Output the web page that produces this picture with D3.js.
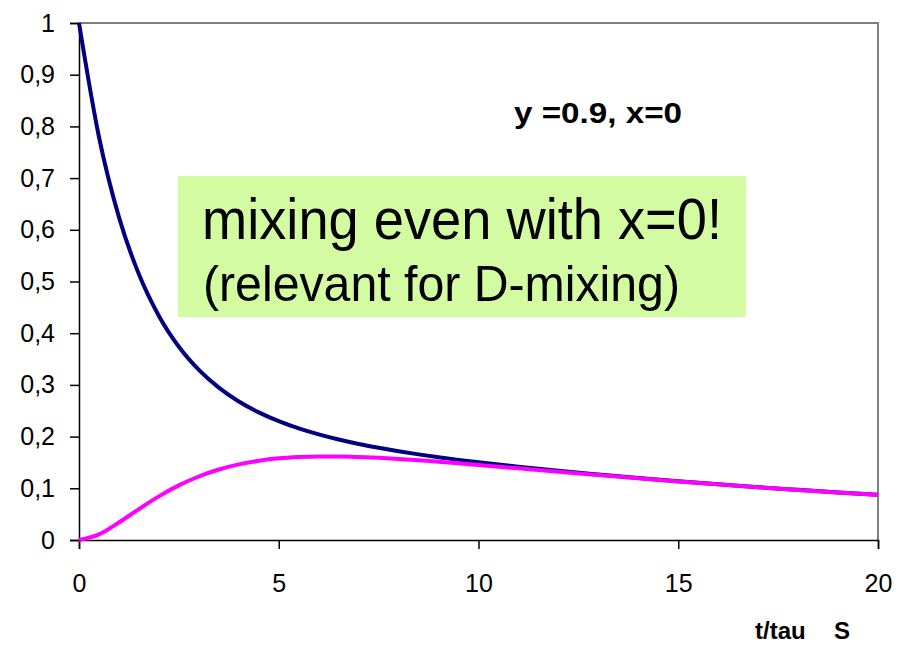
<!DOCTYPE html>
<html>
<head>
<meta charset="utf-8">
<script src="https://cdn.jsdelivr.net/npm/d3@7"></script>
<style>
  body { margin: 0; background: #fff; }
  text { font-family: Arial, "Liberation Sans", sans-serif; }
</style>
</head>
<body>
<div class="mixing-chart"></div>
<script>
// time in units of tau_S
const tValues = [0, 0.5, 1, 1.5, 2, 2.5, 3, 3.5, 4, 4.5, 5, 5.5, 6, 6.5, 7, 7.5, 8, 8.5, 9, 9.5, 10,
  11, 12, 13, 14, 15, 16, 17, 18, 19, 20];
// unmixed (navy) and mixed (magenta) probabilities
const unmixed = [1, 0.7795, 0.6245, 0.5139, 0.4334, 0.3738, 0.329, 0.2947, 0.268, 0.2469, 0.2298,
  0.2158, 0.2042, 0.1943, 0.1857, 0.1783, 0.1716, 0.1656, 0.1601, 0.155, 0.1503,
  0.1417, 0.1338, 0.1267, 0.12, 0.1137, 0.1078, 0.1022, 0.097, 0.092, 0.0873];
const mixed = [0, 0.0108, 0.0338, 0.0598, 0.0844, 0.1056, 0.1228, 0.1363, 0.1462, 0.1532, 0.1579,
  0.1605, 0.1617, 0.1616, 0.1606, 0.159, 0.1568, 0.1542, 0.1513, 0.1483, 0.1451,
  0.1386, 0.132, 0.1256, 0.1193, 0.1133, 0.1076, 0.1021, 0.0969, 0.092, 0.0872];

const xTicks = [0, 5, 10, 15, 20];
const yTicks = [0, 0.1, 0.2, 0.3, 0.4, 0.5, 0.6, 0.7, 0.8, 0.9, 1];

const margin = { top: 23, right: 19, bottom: 107, left: 79 };
const width = 897 - margin.left - margin.right;
const height = 647 - margin.top - margin.bottom;

const svg = d3
  .select(".mixing-chart")
  .append("svg")
  .attr("width", width + margin.left + margin.right)
  .attr("height", height + margin.top + margin.bottom)
  .append("g")
  .attr("transform", "translate(" + margin.left + "," + margin.top + ")");

const x = d3.scaleLinear().domain([0, 20]).range([0, width]);
const y = d3.scaleLinear().domain([0, 1]).range([height, 0]);

// plot frame (top + right in grey)
svg
  .append("path")
  .attr("d", `M0,0H${width}V${height}`)
  .attr("fill", "none")
  .attr("stroke", "#808080")
  .attr("stroke-width", 2);

// axes
const xAxis = d3.axisBottom(x).tickValues(xTicks).tickSize(9).tickPadding(25).tickFormat(d3.format("d"));
const yAxis = d3
  .axisLeft(y)
  .tickValues(yTicks)
  .tickSize(9)
  .tickPadding(15)
  .tickFormat((d) => (d === 0 || d === 1 ? String(d) : d3.format(".1f")(d).replace(".", ",")));

svg
  .append("g")
  .attr("class", "axis x-axis")
  .attr("transform", `translate(0, ${height})`)
  .call(xAxis)
  .call((g) => g.selectAll("text").attr("font-size", "25px").attr("font-family", "Arial, 'Liberation Sans', sans-serif"))
  .call((g) => g.selectAll("line, path").attr("stroke", "#000").attr("stroke-width", 1.5));

svg
  .append("g")
  .attr("class", "axis y-axis")
  .call(yAxis)
  .call((g) => g.selectAll("text").attr("font-size", "25px").attr("font-family", "Arial, 'Liberation Sans', sans-serif"))
  .call((g) => g.selectAll("line, path").attr("stroke", "#000").attr("stroke-width", 1.5));

// annotation box
svg
  .append("rect")
  .attr("x", x(2.5) - 1)
  .attr("y", 153)
  .attr("width", 568)
  .attr("height", 141)
  .attr("fill", "#d3fba1");

svg
  .append("text")
  .attr("x", 123)
  .attr("y", 216)
  .attr("font-size", "57px")
  .attr("textLength", 520)
  .attr("lengthAdjust", "spacingAndGlyphs")
  .text("mixing even with x=0!");

svg
  .append("text")
  .attr("x", 124)
  .attr("y", 278)
  .attr("font-size", "50px")
  .attr("textLength", 477)
  .attr("lengthAdjust", "spacingAndGlyphs")
  .text("(relevant for D-mixing)");

svg
  .append("text")
  .attr("x", 435)
  .attr("y", 100)
  .attr("font-size", "30px")
  .attr("font-weight", 700)
  .attr("textLength", 168)
  .attr("lengthAdjust", "spacingAndGlyphs")
  .text("y =0.9, x=0");

// axis title
const xTitle = svg
  .append("text")
  .attr("y", height + 99)
  .attr("font-size", "24px")
  .attr("font-weight", 700);
xTitle.append("tspan").attr("x", 676).text("t/tau");
xTitle.append("tspan").attr("x", 755).text("S");

// curves
const lineUnmixed = d3
  .line()
  .x((d, i) => x(tValues[i]))
  .y((d) => y(d))
  .curve(d3.curveMonotoneX);

svg
  .append("path")
  .datum(unmixed)
  .attr("fill", "none")
  .attr("stroke", "#000080")
  .attr("stroke-width", 4)
  .attr("stroke-linejoin", "round")
  .attr("d", lineUnmixed);

svg
  .append("path")
  .datum(mixed)
  .attr("fill", "none")
  .attr("stroke", "#ff00ff")
  .attr("stroke-width", 4)
  .attr("stroke-linejoin", "round")
  .attr("d", lineUnmixed);
</script>
</body>
</html>
